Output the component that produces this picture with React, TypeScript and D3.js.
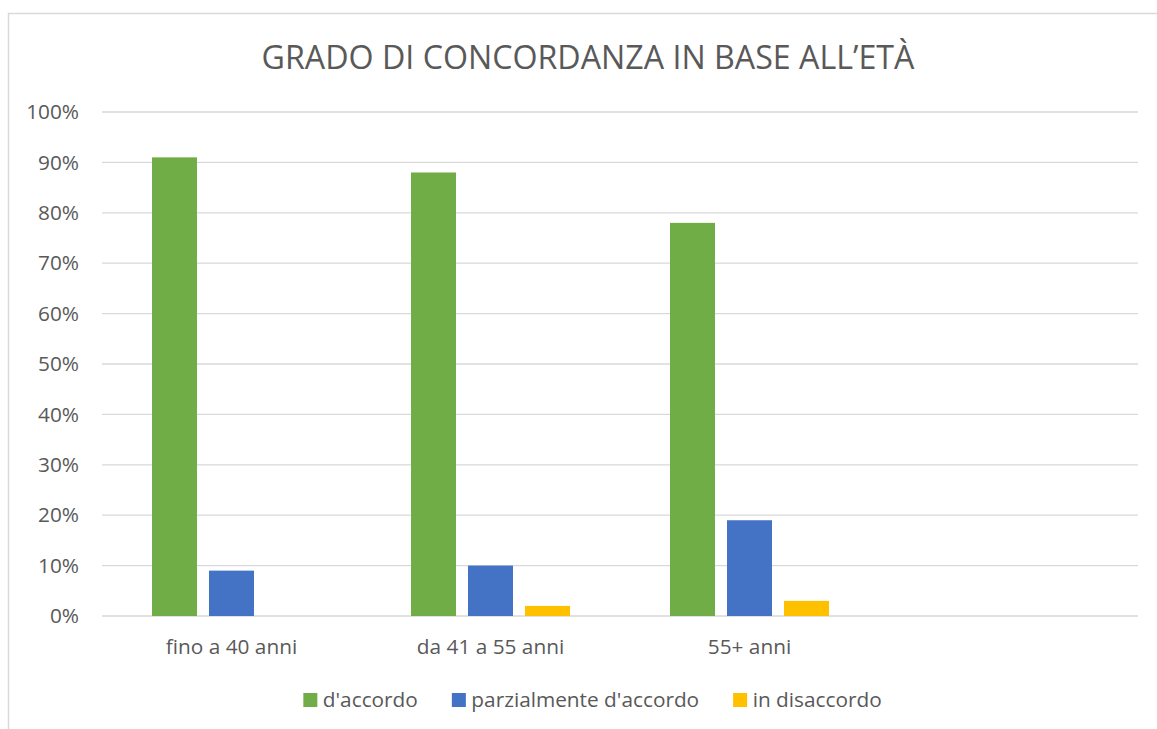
import React, { useEffect, useRef } from "react";
import * as d3 from "d3";

const categories = ["fino a 40 anni", "da 41 a 55 anni", "55+ anni", ""];
const seriesNames = ["d'accordo", "parzialmente d'accordo", "in disaccordo"];
const seriesColors = ["#70AD47", "#4472C4", "#FFC000"];
const accordo = [91, 88, 78, null];
const parziale = [9, 10, 19, null];
const disaccordo = [0, 2, 3, null];
const yTicks = [0, 10, 20, 30, 40, 50, 60, 70, 80, 90, 100];
const title = "GRADO DI CONCORDANZA IN BASE ALL\u2019ETÀ";

const W = 1157;
const H = 729;
const FONT = "'Open Sans', sans-serif";
const TEXT = "#595959";
const FS = 20.8;

export default function App() {
  const ref = useRef<SVGSVGElement>(null);
  useEffect(() => {
    const svg = d3.select(ref.current);
    svg.selectAll("*").remove();
    const values = [accordo, parziale, disaccordo];

    svg.append("rect").attr("x", 0).attr("y", 0).attr("width", W).attr("height", H).attr("fill", "#fff");
    svg.append("rect").attr("x", 8.5).attr("y", 13.5).attr("width", 1160).attr("height", 740)
      .attr("fill", "#fff").attr("stroke", "#D9D9D9").attr("stroke-width", 1.5);

    const left = 102, right = 1138, top = 112, bottom = 616;
    const x0 = d3.scaleBand<string>().domain(categories.map((c, i) => String(i))).range([left, right]).padding(0);
    const bw = x0.bandwidth();
    const inset = bw * (50 / 259);
    const x1 = d3.scaleBand<string>().domain(seriesNames).range([inset, bw - inset]).paddingInner(12 / 57).paddingOuter(0);
    const y = d3.scaleLinear().domain([0, 100]).range([bottom, top]);

    // gridlines
    svg.append("g").selectAll("line").data(yTicks).join("line")
      .attr("x1", left).attr("x2", right)
      .attr("y1", (d) => y(d)).attr("y2", (d) => y(d))
      .attr("stroke", "#D9D9D9").attr("stroke-width", 1.3);

    // tick labels
    svg.append("g").selectAll("text").data(yTicks).join("text")
      .attr("x", 79).attr("y", (d) => y(d)).attr("dy", "0.35em")
      .attr("text-anchor", "end").attr("font-family", FONT).attr("font-size", FS)
      .attr("fill", TEXT).text((d) => d + "%");

    // bars
    seriesNames.forEach((s, si) => {
      svg.append("g").selectAll("rect").data(values[si].map((v, i) => ({ v, i })).filter((d) => d.v !== null && (d.v as number) > 0))
        .join("rect")
        .attr("x", (d) => (x0(String(d.i)) as number) + (x1(s) as number))
        .attr("width", x1.bandwidth())
        .attr("y", (d) => y(d.v as number))
        .attr("height", (d) => y(0) - y(d.v as number))
        .attr("fill", seriesColors[si]);
    });

    // category labels
    svg.append("g").selectAll("text").data(categories).join("text")
      .attr("x", (d, i) => (x0(String(i)) as number) + bw / 2).attr("y", 654)
      .attr("text-anchor", "middle").attr("font-family", FONT).attr("font-size", FS)
      .attr("fill", TEXT).text((d) => d);

    // title
    svg.append("text").attr("x", 588).attr("y", 69).attr("text-anchor", "middle")
      .attr("font-family", FONT).attr("font-size", 32.2).attr("fill", TEXT).text(title);

    // legend
    const lg = svg.append("g");
    let cx = 0;
    const items: { g: any; w: number }[] = [];
    seriesNames.forEach((s, i) => {
      const g = lg.append("g");
      g.append("rect").attr("x", 0).attr("y", 693).attr("width", 14).attr("height", 14).attr("fill", seriesColors[i]);
      const t = g.append("text").attr("x", 19.5).attr("y", 707).attr("font-family", FONT).attr("font-size", FS)
        .attr("fill", TEXT).text(s);
      const tw = (t.node() as SVGTextElement).getComputedTextLength();
      items.push({ g, w: 19.5 + tw });
    });
    const spacing = 34;
    const total = items.reduce((a, b) => a + b.w, 0) + spacing * (items.length - 1);
    cx = 592.5 - total / 2;
    items.forEach((it) => {
      it.g.attr("transform", `translate(${cx},0)`);
      cx += it.w + spacing;
    });
  }, []);
  return <svg ref={ref} width={W} height={H} style={{ position: "absolute", left: 0, top: 0 }} />;
}
